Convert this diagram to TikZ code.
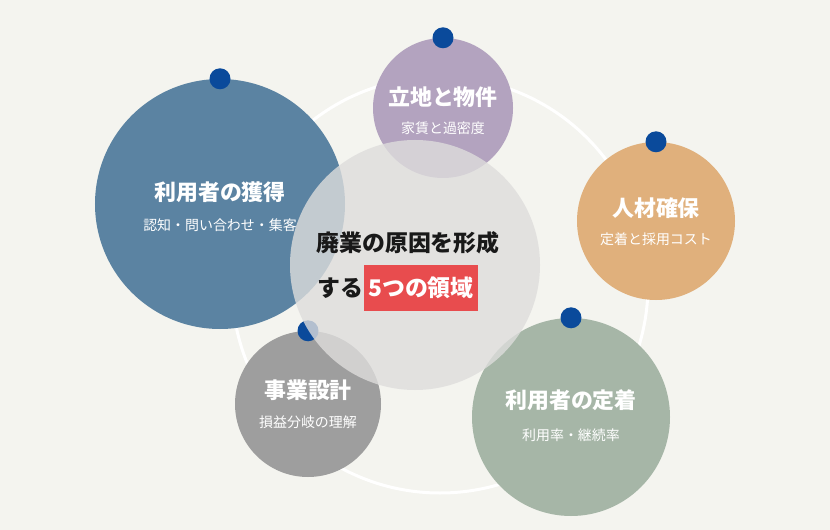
\documentclass[tikz,border=0pt]{standalone}
\usepackage{fontspec}
\setmainfont{Noto Sans CJK JP}
\definecolor{paper}{HTML}{F4F4EF}
\definecolor{pinblue}{HTML}{0A4A9B}
\definecolor{acqblue}{HTML}{5B83A2}
\definecolor{sitelav}{HTML}{B3A3BF}
\definecolor{stafftan}{HTML}{E0B07C}
\definecolor{keepsage}{HTML}{A6B6A7}
\definecolor{plangrey}{HTML}{9E9E9E}
\definecolor{corefill}{HTML}{DEDDDC}
\definecolor{markred}{HTML}{E84C4E}
\begin{document}
\begin{tikzpicture}[x=1bp,y=-1bp,
  area/.style={circle,inner sep=0pt},
  pin/.style={circle,fill=pinblue,minimum size=21bp,inner sep=0pt},
  title/.style={text=white,font=\fontsize{22}{26}\selectfont\bfseries},
  sub/.style={text=white,font=\fontsize{14}{17}\selectfont},
  core/.style={text=black!90,font=\fontsize{23}{27}\selectfont\bfseries}]
\fill[paper] (0,0) rectangle (830,530);
\useasboundingbox (0,0) rectangle (830,530);
% ring behind
\draw[white,line width=3bp] (440,285) circle[radius=208bp];
% five areas
\node[area,fill=acqblue,minimum size=250bp] (acq) at (220,204) {};
\node[area,fill=sitelav,minimum size=140bp] (site) at (443,108) {};
\node[area,fill=stafftan,minimum size=158bp] (staff) at (656,221) {};
\node[area,fill=keepsage,minimum size=198bp] (keep) at (571,417) {};
\node[area,fill=plangrey,minimum size=146bp] (plan) at (308,404) {};
\node[pin] (acqpin) at (acq.north) {};
\node[pin] (sitepin) at (site.north) {};
\node[pin] (staffpin) at (staff.north) {};
\node[pin] (keeppin) at (keep.north) {};
\node[pin] (planpin) at (plan.north) {};
% center
\node[area,fill=corefill,fill opacity=0.8,minimum size=250bp] (core) at (415,265) {};
% labels
\node[title] (acqtitle) at (220,192) {利用者の獲得};
\node[sub] (acqsub) at (220,225) {認知・問い合わせ・集客};
\node[title] (sitetitle) at (443,97) {立地と物件};
\node[sub] (sitesub) at (443,128) {家賃と過密度};
\node[title] (stafftitle) at (656,208) {人材確保};
\node[sub] (staffsub) at (656,239) {定着と採用コスト};
\node[title] (keeptitle) at (571,400) {利用者の定着};
\node[sub] (keepsub) at (571,435) {利用率・継続率};
\node[title] (plantitle) at (308,390) {事業設計};
\node[sub] (plansub) at (308,422) {損益分岐の理解};
\node[core] (coreline) at (408,243) {廃業の原因を形成};
\node[core,anchor=west,inner sep=0pt] (coresuru) at (317,288) {する};
\node[core,text=white,fill=markred,anchor=west,inner xsep=4bp,minimum height=46bp]
  (coremark) at (364,288) {5つの領域};
\end{tikzpicture}
\end{document}
